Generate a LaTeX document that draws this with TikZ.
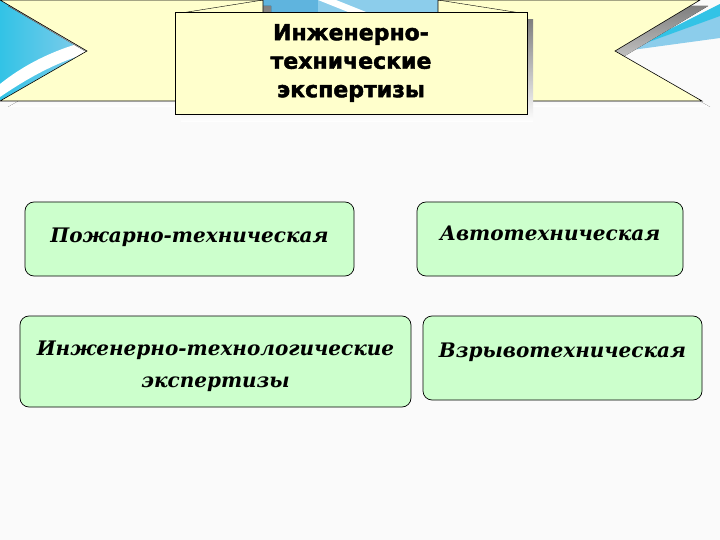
\documentclass[tikz,border=0pt]{standalone}
\usepackage{fontspec}
\newfontfamily\boxfont{DejaVu Serif}
\newfontfamily\titlefont[BoldFeatures={FakeBold=2}]{DejaVu Sans}
\usetikzlibrary{positioning}
\definecolor{ribbon}{RGB}{255,255,204}
\definecolor{mint}{RGB}{204,255,204}
\definecolor{shade}{RGB}{128,128,128}
\definecolor{sky}{RGB}{50,195,230}
\definecolor{skymid}{RGB}{95,180,222}
\definecolor{skylight}{RGB}{140,205,235}
\definecolor{paper}{RGB}{250,250,250}
\tikzset{
  kindbox/.style={draw, line width=0.7pt, rounded corners=9pt, fill=mint, inner sep=0pt},
  kindtext/.style={align=center, inner sep=0pt,
    font=\boxfont\bfseries\itshape\fontsize{20}{32}\selectfont},
  banner/.style={draw, line width=0.6pt, fill=ribbon},
  titlebox/.style={draw, line width=0.8pt, fill=ribbon, align=center, inner sep=0pt,
    font=\titlefont\bfseries\fontsize{22}{28.5}\selectfont},
}

\begin{document}
\begin{tikzpicture}[x=1pt,y=-1pt]
\useasboundingbox (0,0) rectangle (720,540);
\fill[paper] (0,0) rectangle (720,540);
% blue swirl behind the banner
\shade[left color=sky,right color=skylight] (0,0) rectangle (95,100);
\fill[white] (92,40) .. controls (50,50) and (20,68) .. (0,84) -- (0,97) .. controls (25,80) and (55,62) .. (92,52) -- cycle;
\fill[skylight] (263,0) rectangle (438,16);
\fill[skymid] (263,0) rectangle (318,16);
\fill[white] (318,0) -- (336,0) -- (376,16) -- (358,16) -- cycle;
\fill[skylight] (632,50) -- (720,4) -- (720,38) -- cycle;
\fill[sky] (632,48) -- (720,4) -- (720,16) -- cycle;

% ribbon shadows
\begin{scope}[shift={(8,6)}]
\fill[shade] (0,0) -- (263,0) -- (263,101) -- (0,101) -- (87,51) -- cycle;
\fill[shade] (438,0) -- (700,0) -- (615,51) -- (702,101) -- (438,101) -- cycle;
\end{scope}
% ribbon ends
\draw[banner] (0,0) -- (263,0) -- (263,101) -- (0,101) -- (87,51) -- cycle;
\draw[banner] (438,0) -- (700,0) -- (615,51) -- (702,101) -- (438,101) -- cycle;
\draw (175,14) -- (263,0);
\draw (438,0) -- (527,14);

% centre panel
\fill[shade] (181,20) rectangle (533,122);
\node[titlebox, minimum width=352pt, minimum height=102pt] (title) at (351,63)
  {Инженерно-\\технические\\экспертизы};

% kinds of expertise
\node[kindbox, minimum width=329pt, minimum height=74pt] (fire) at (189.5,239) {};
\node[kindbox, minimum width=266pt, minimum height=74pt] (auto) at (550,239) {};
\node[kindbox, minimum width=391pt, minimum height=91pt] (tech) at (215.5,361.5) {};
\node[kindbox, minimum width=279pt, minimum height=84pt] (blast) at (562.5,358) {};

\node[kindtext] (fire text) at ([yshift=2pt]fire.center) {Пожарно-техническая};
\node[kindtext] (auto text) at ([yshift=6pt]auto.center) {Автотехническая};
\node[kindtext] (tech text) at ([yshift=-4.5pt]tech.center) {Инженерно-технологические\\экспертизы};
\node[kindtext] (blast text) at ([yshift=6pt]blast.center) {Взрывотехническая};
\end{tikzpicture}
\end{document}
